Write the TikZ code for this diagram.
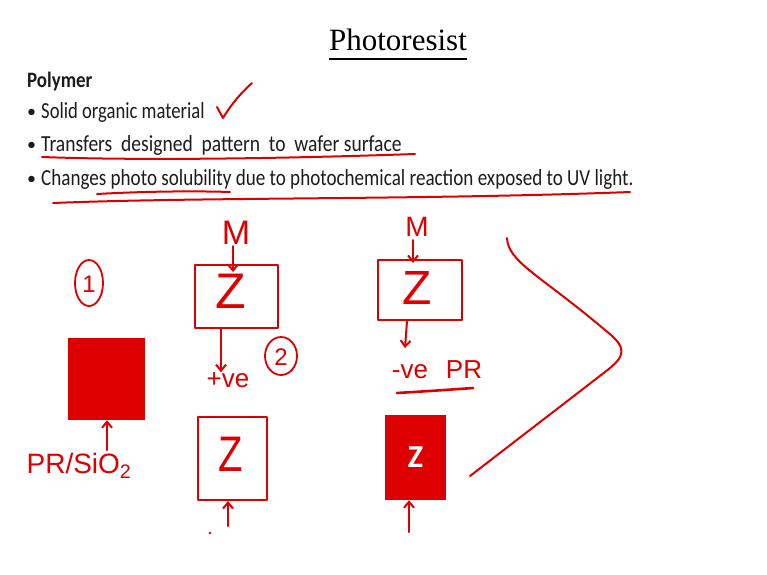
\documentclass[tikz,border=0pt]{standalone}
\usepackage{fontspec}
\setmainfont{Carlito}
\newfontfamily\titlefont{Liberation Serif}
\newfontfamily\handfont{Liberation Sans}
\usetikzlibrary{arrows.meta}
\definecolor{ink}{RGB}{222,0,0}
\definecolor{txt}{RGB}{28,28,28}
\begin{document}
\begin{tikzpicture}[x=1pt,y=-1pt,
  body/.style={anchor=base west, inner sep=0, text=txt, font=\fontsize{23}{26}\selectfont},
  dot/.style={anchor=base west, inner sep=0, text=txt, font=\fontsize{18}{20}\selectfont},
  hand/.style={text=ink, inner sep=0, font=\handfont\fontsize{#1}{#1}\selectfont},
  stroke/.style={draw=ink, line width=2pt, line cap=round, line join=round},
  harrow/.style={stroke, -{Straight Barb[length=6pt,width=10pt]}},
  hbox/.style={stroke},
  ring/.style={stroke, line width=1.8pt}]
\useasboundingbox[fill=white] (0,0) rectangle (767,574);

% ---------- printed text ----------
\node[anchor=base, inner sep=0, text=black, font=\titlefont\fontsize{31}{34}\selectfont] (title) at (398,50) {Photoresist};
\draw[line width=2pt] ([yshift=-9pt]title.base west) -- ([yshift=-9pt]title.base east);

\node[body, font=\bfseries\fontsize{22}{24}\selectfont] (poly) at (27,87) {\scalebox{0.86}[1]{Polymer}};
\node[dot] (d1) at (27,117) {\textbullet};
\node[body] (b1) at (41,118) {\scalebox{0.81}[1]{Solid organic material}};
\node[dot] (d2) at (27,150) {\textbullet};
\node[body] (b2) at (41,151) {\scalebox{0.85}[1]{Transfers\ \ designed\ \ pattern\ \ to\ \ wafer surface}};
\node[dot] (d3) at (27,184) {\textbullet};
\node[body] (b3) at (41,185) {\scalebox{0.83}[1]{Changes photo solubility due to photochemical reaction exposed to UV light.}};

% ---------- hand marks on the text ----------
\draw[stroke] (217,107) .. controls (220,112) .. (223,118) .. controls (232,103) and (242,92) .. (252,83);
\draw[stroke] (42,157) .. controls (150,161) and (300,158) .. (415,154);
\draw[stroke] (97,194) .. controls (150,191) and (200,191) .. (230,192);
\draw[stroke] (53,203) .. controls (200,197) and (420,200) .. (630,192);

% ---------- sketch 1 ----------
\draw[ring] (89,283) ellipse [x radius=14, y radius=23];
\node[hand=24] (one) at (89,284) {1};
\node[fill=ink, inner sep=0, minimum width=77, minimum height=82] (pr) at (106.5,379) {};
\coordinate (prin) at (107,450);
\draw[harrow] (prin) -- (pr.south -| prin);
\node[hand=28] (prsio) at (79,466) {PR/SiO\textsubscript{2}};

% ---------- sketch 2 (positive) ----------
\node[hand=34] (m1) at (236,233) {M};
\node[hbox, minimum width=83, minimum height=63, inner sep=0] (bx1) at (236.5,296.5) {};
\node[hand=50] (z1) at (231,291) {Z};
\draw[harrow] (233,246) -- (233,272);
\node[hand=26] (pos) at (228,380) {+ve};
\draw[harrow] (bx1.south -| 221,0) -- (pos.north -| 221,0);
\draw[ring] (281,356) ellipse [x radius=16, y radius=19];
\node[hand=24] (two) at (281,357) {2};
\node[hbox, minimum width=69, minimum height=83, inner sep=0] (bx2) at (232.5,458.5) {};
\node[hand=50] (z2) at (231,454) {\scalebox{0.8}[1]{Z}};
\coordinate (pin) at (228,526);
\draw[harrow] (pin) -- (bx2.south -| pin);
\fill[ink] (210,533) circle (1.3);

% ---------- sketch 3 (negative) ----------
\node[hand=28] (m2) at (417,227) {M};
\node[hbox, minimum width=84, minimum height=60, inner sep=0] (bx3) at (420,290) {};
\node[hand=48] (z3) at (417,288) {Z};
\draw[harrow] (413,240) -- (413,263);
\node[hand=26] (neg) at (437,370) {-ve\hspace{18pt}PR};
\draw[harrow] (bx3.south -| 407,0) -- (405,348);
\draw[stroke, line width=2.6pt] (397,393) .. controls (430,391) .. (473,388);
\node[fill=ink, inner sep=0, minimum width=61, minimum height=85, text=white,
      font=\bfseries\fontsize{32}{32}\selectfont] (bx4) at (415.5,457.5) {Z};
\coordinate (nin) at (409,532);
\draw[harrow] (nin) -- (bx4.south -| nin);

% ---------- big bracket ----------
\draw[stroke] (507,238) .. controls (508,262) and (540,275) .. (605,330)
  .. controls (628,348) and (626,356) .. (605,372) -- (470,476);
\end{tikzpicture}
\end{document}
